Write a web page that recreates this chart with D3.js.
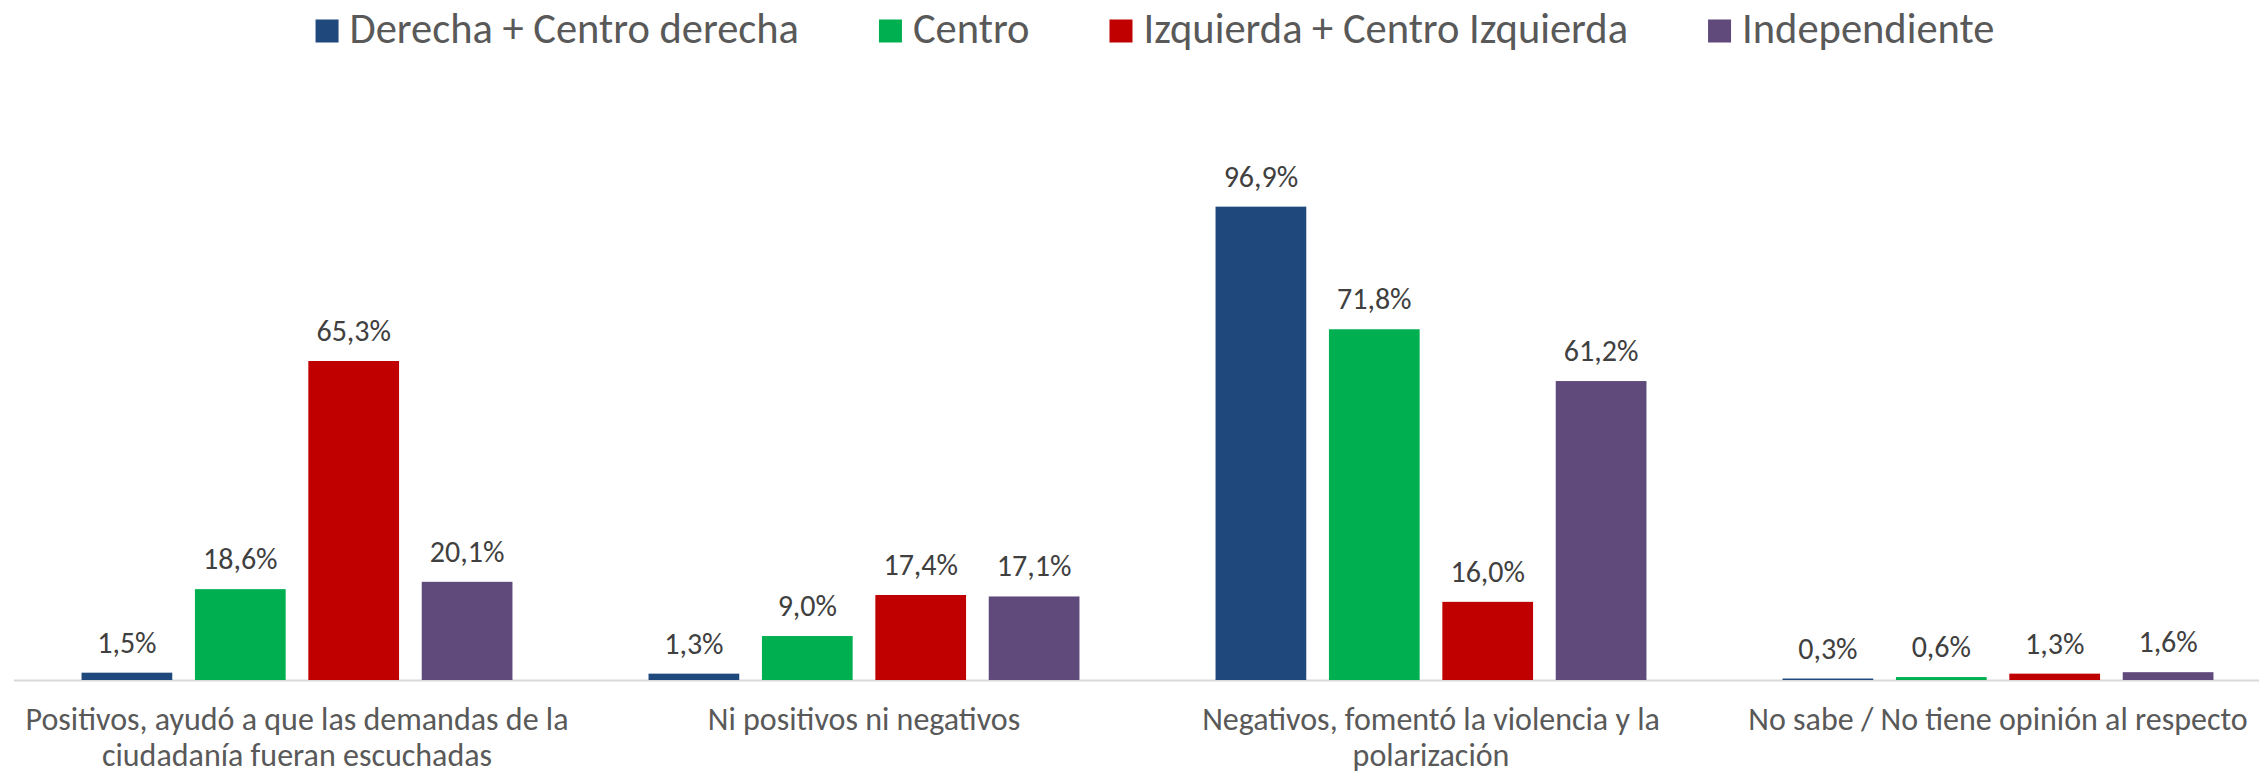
<!DOCTYPE html>
<html lang="es">
<head>
<meta charset="utf-8">
<script src="https://cdn.jsdelivr.net/npm/d3@7"></script>
<style>
  html, body { margin: 0; padding: 0; background: #ffffff; }
  svg { display: block; }
  text { font-family: Carlito, Calibri, Lato, sans-serif; }
</style>
</head>
<body>
<svg id="chart" width="2259" height="774"></svg>
<script>
// Categorías de respuesta (cada una se parte en líneas para el eje)
const categories = [
  "Positivos, ayudó a que las demandas de la ciudadanía fueran escuchadas",
  "Ni positivos ni negativos",
  "Negativos, fomentó la violencia y la polarización",
  "No sabe / No tiene opinión al respecto"
];
const categoryLines = [
  ["Positivos, ayudó a que las demandas de la", "ciudadanía fueran escuchadas"],
  ["Ni positivos ni negativos"],
  ["Negativos, fomentó la violencia y la", "polarización"],
  ["No sabe / No tiene opinión al respecto"]
];

// Series: identificación política
const seriesNames = ["Derecha + Centro derecha", "Centro", "Izquierda + Centro Izquierda", "Independiente"];

// Porcentajes por categoría, en el orden de `categories`
const derecha       = [1.5, 1.3, 96.9, 0.3];
const centro        = [18.6, 9.0, 71.8, 0.6];
const izquierda     = [65.3, 17.4, 16.0, 1.3];
const independiente = [20.1, 17.1, 61.2, 1.6];

const seriesValues = [derecha, centro, izquierda, independiente];
const seriesColors = ["#1F497D", "#00B050", "#C00000", "#604A7B"];

const svg = d3.select("#chart");

const baseY = 680;
const plotLeft = 13.5, plotRight = 2281.5;

const x0 = d3.scaleBand().domain(categories).range([plotLeft, plotRight]);
const x1 = d3.scaleBand().domain(seriesNames).range([0, x0.bandwidth()])
  .paddingInner(0.2).paddingOuter(0.6);
const y = d3.scaleLinear().domain([0, 100]).range([baseY, baseY - 488.5]);

const es = d3.formatLocale({ decimal: ",", thousands: ".", grouping: [3], currency: ["", ""] });
const fmt = v => es.format(".1f")(v) + "%";

// Eje horizontal (solo la línea base)
const axis = svg.append("g")
  .attr("transform", `translate(0,${baseY})`)
  .call(d3.axisBottom(x0).tickSize(0).tickFormat(""));
axis.select(".domain").attr("stroke", "#D9D9D9").attr("stroke-width", 2);

// Etiquetas de categoría en varias líneas
const catLabels = svg.append("g")
  .selectAll("text")
  .data(categories)
  .join("text")
  .attr("x", d => x0(d) + x0.bandwidth() / 2)
  .attr("y", 730)
  .attr("text-anchor", "middle")
  .attr("fill", "#595959")
  .attr("font-size", 32);
catLabels.each(function (d, i) {
  d3.select(this).selectAll("tspan")
    .data(categoryLines[i])
    .join("tspan")
    .attr("x", x0(d) + x0.bandwidth() / 2)
    .attr("dy", (l, j) => j === 0 ? 0 : 36)
    .text(l => l);
});

// Barras agrupadas
const rows = categories.map((c, i) => ({
  category: c,
  items: seriesNames.map((s, k) => ({ series: s, value: seriesValues[k][i], color: seriesColors[k] }))
}));

const groups = svg.append("g")
  .selectAll("g")
  .data(rows)
  .join("g")
  .attr("transform", d => `translate(${x0(d.category)},0)`);

groups.selectAll("rect")
  .data(d => d.items)
  .join("rect")
  .attr("x", d => x1(d.series))
  .attr("y", d => y(d.value))
  .attr("width", x1.bandwidth())
  .attr("height", d => baseY - y(d.value))
  .attr("fill", d => d.color);

groups.selectAll("text")
  .data(d => d.items)
  .join("text")
  .attr("x", d => x1(d.series) + x1.bandwidth() / 2)
  .attr("y", d => y(d.value) - 20)
  .attr("text-anchor", "middle")
  .attr("fill", "#404040")
  .attr("font-size", 30)
  .text(d => fmt(d.value));

// Leyenda centrada en la parte superior
const legend = svg.append("g");
const sq = 23, sqGap = 11, itemGap = 80, legendFont = 42.5;
const legendCenter = 1155;
const items = legend.selectAll("g")
  .data(seriesNames)
  .join("g");
items.append("rect")
  .attr("width", sq).attr("height", sq)
  .attr("y", 19.5)
  .attr("fill", (d, i) => seriesColors[i]);
items.append("text")
  .attr("x", sq + sqGap)
  .attr("y", 43)
  .attr("fill", "#595959")
  .attr("font-size", legendFont)
  .text(d => d);

let cursor = 0;
const offsets = [];
items.each(function () {
  offsets.push(cursor);
  const tw = d3.select(this).select("text").node().getComputedTextLength();
  cursor += sq + sqGap + tw + itemGap;
});
const totalW = cursor - itemGap;
const startX = legendCenter - totalW / 2;
items.attr("transform", (d, i) => `translate(${startX + offsets[i]},0)`);
</script>
</body>
</html>
